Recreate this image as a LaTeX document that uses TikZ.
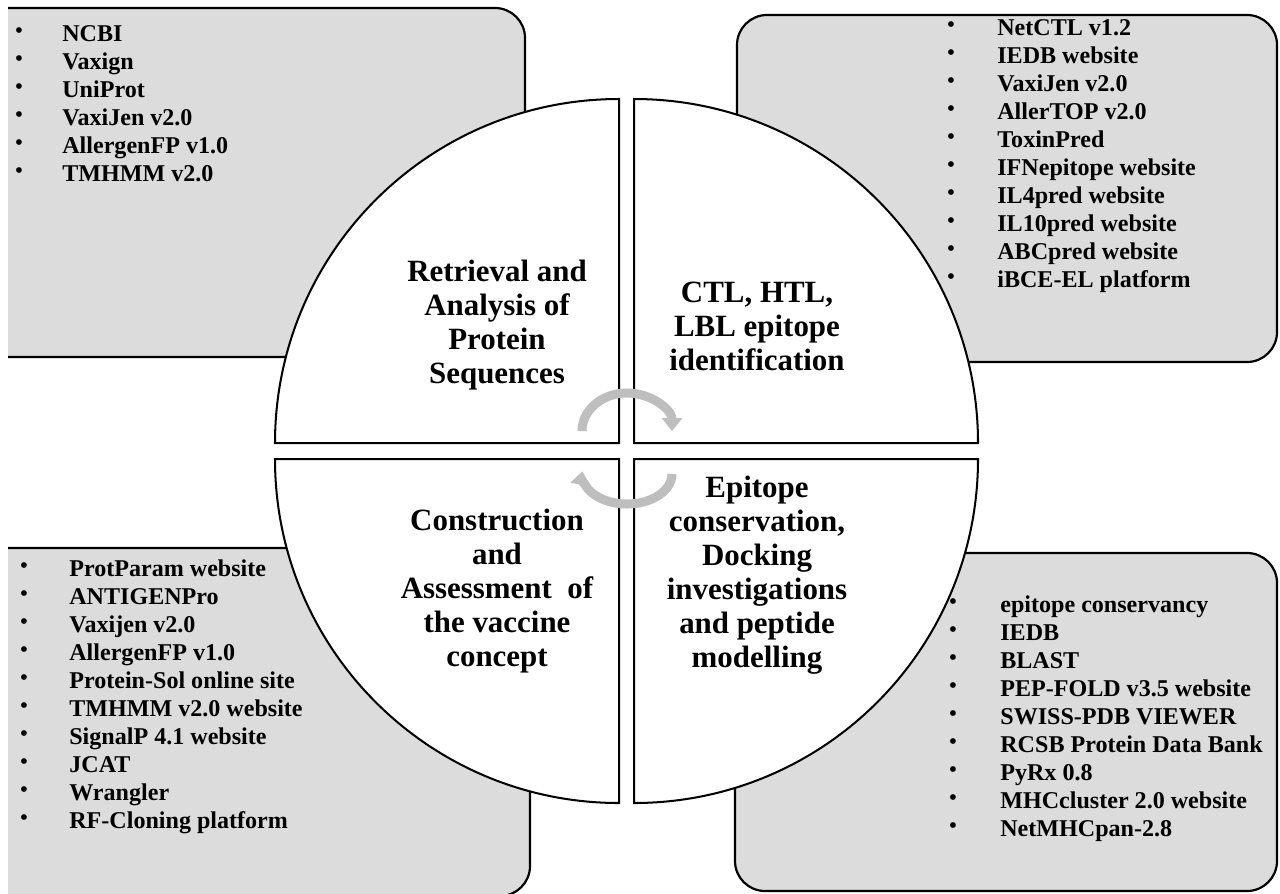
\documentclass[tikz,border=0pt]{standalone}
\usepackage{fontspec}
\setmainfont{Liberation Serif}
\usetikzlibrary{arrows.meta}
\definecolor{boxgray}{HTML}{DCDCDC}
\definecolor{turngray}{HTML}{BEBEBE}
\tikzset{
  toolbox/.style={draw=black, line width=1.25pt, fill=boxgray, rounded corners=0.6cm},
  quarter/.style={draw=black, line width=1.15pt, fill=white},
  tool/.style={anchor=base west, inner sep=0pt, font=\bfseries\fontsize{13.7}{16}\selectfont},
  dot/.style={anchor=center, inner sep=0pt, font=\bfseries\fontsize{12}{14}\selectfont},
  stage/.style={align=center, inner sep=0pt, font=\bfseries\fontsize{17.6}{19.4}\selectfont},
  turn/.style={draw=turngray, line width=0.18cm, -{Triangle[length=0.26cm, width=0.4cm]}}
}
\begin{document}
\begin{tikzpicture}[x=0.02cm, y=-0.02cm]
    \useasboundingbox (0,0) rectangle (1280,893);
    % boxes behind the circle
    \begin{scope}
        \clip (8,0) rectangle (1280,893);
        \draw[toolbox] (-40,8) rectangle (525,357);
        \draw[toolbox] (737,15) rectangle (1277,362);
        \draw[toolbox] (-40,548) rectangle (530,896);
        \draw[toolbox] (735,553) rectangle (1277,891);
    \end{scope}
    % four quarters of the circle
    \draw[quarter] (619,443) -- (275,443) arc[start angle=180, end angle=270, radius=344] -- cycle;
    \draw[quarter] (634,443) -- (634,99) arc[start angle=270, end angle=360, radius=344] -- cycle;
    \draw[quarter] (634,459) -- (978,459) arc[start angle=0, end angle=90, radius=344] -- cycle;
    \draw[quarter] (619,459) -- (619,803) arc[start angle=90, end angle=180, radius=344] -- cycle;
    % turning arrows
    \draw[turn] (582,431) arc[start angle=180, end angle=360, x radius=45, y radius=38];
    \draw[turn] (672,474) arc[start angle=0, end angle=185, x radius=45, y radius=30];
    % stages
    \node[stage] (retrieval) at (497,325) {Retrieval and\\Analysis of\\Protein\\Sequences};
    \node[stage] (epitope) at (757,326) {CTL, HTL,\\LBL epitope\\identification};
    \node[stage] (construct) at (497,591) {Construction\\and\\Assessment\ \ of\\the vaccine\\concept};
    \node[stage] (docking) at (757,575) {Epitope\\conservation,\\Docking\\investigations\\and peptide\\modelling};
    % tools of each stage
    \foreach \t [count=\i] in {NCBI, Vaxign, UniProt, VaxiJen v2.0, AllergenFP v1.0, TMHMM v2.0} {
        \node[dot] (tl-dot-\i) at (19,{33+28*(\i-1)}) {\textbullet};
        \node[tool] (tl-\i) at (62,{41+28*(\i-1)}) {\t};
    }
    \foreach \t [count=\i] in {NetCTL v1.2, IEDB website, VaxiJen v2.0, AllerTOP v2.0, ToxinPred,
        IFNepitope website, IL4pred website, IL10pred website, ABCpred website, iBCE-EL platform} {
        \node[dot] (tr-dot-\i) at (951,{27+28*(\i-1)}) {\textbullet};
        \node[tool] (tr-\i) at (997,{35+28*(\i-1)}) {\t};
    }
    \foreach \t [count=\i] in {ProtParam website, ANTIGENPro, Vaxijen v2.0, AllergenFP v1.0, Protein-Sol online site,
        TMHMM v2.0 website, SignalP 4.1 website, JCAT, Wrangler, RF-Cloning platform} {
        \node[dot] (bl-dot-\i) at (24,{568+28*(\i-1)}) {\textbullet};
        \node[tool] (bl-\i) at (69,{576+28*(\i-1)}) {\t};
    }
    \foreach \t [count=\i] in {epitope conservancy, IEDB, BLAST, PEP-FOLD v3.5 website, SWISS-PDB VIEWER,
        RCSB Protein Data Bank, PyRx 0.8, MHCcluster 2.0 website, NetMHCpan-2.8} {
        \node[dot] (br-dot-\i) at (953,{604+28*(\i-1)}) {\textbullet};
        \node[tool] (br-\i) at (1000,{612+28*(\i-1)}) {\t};
    }
\end{tikzpicture}
\end{document}
